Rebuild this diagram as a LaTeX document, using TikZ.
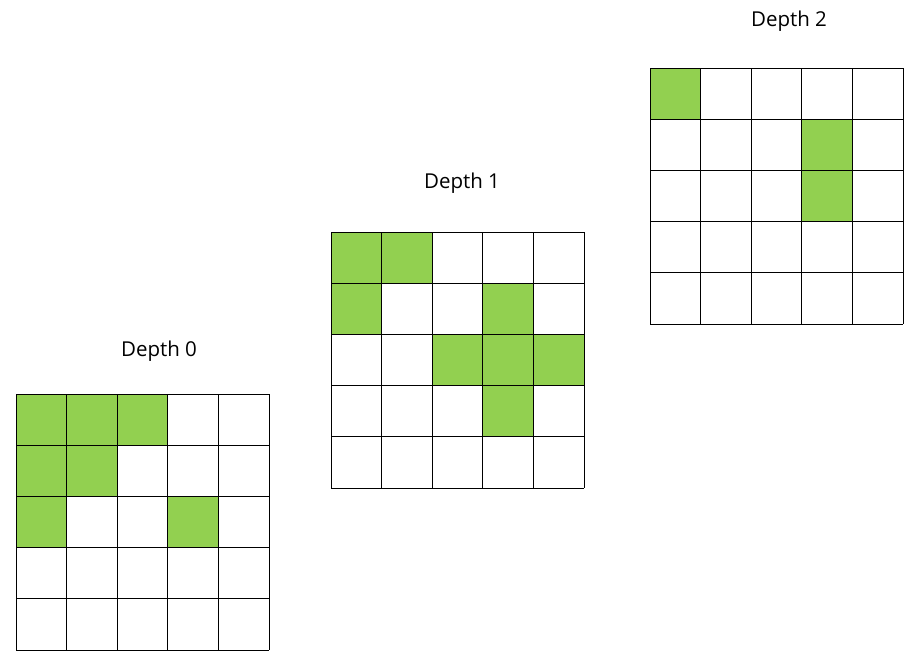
\documentclass[tikz,border=0pt]{standalone}
\usepackage{fontspec}
\setmainfont{Open Sans}
\usepackage{tikz}
\definecolor{verdecelda}{HTML}{92D050}
\tikzset{
  celda/.style={fill=verdecelda,draw=none},
  rejilla/.style={line width=0.9pt,black},
  titulo/.style={anchor=base,font=\fontsize{20.5}{24}\selectfont}
}
% dibuja una rejilla de 5x5 con esquina superior izquierda en #1 y celdas verdes #2 (col/fila)
\newcommand{\rejillaprof}[2]{%
  \begin{scope}[shift={#1}]
    \foreach \c/\f in {#2}
      \fill[celda] (\c*50.6,\f*51.2) rectangle ++(50.6,51.2);
    \foreach \i in {0,...,5}{
      \draw[rejilla] (\i*50.6,0) -- (\i*50.6,256);
      \draw[rejilla] (0,\i*51.2) -- (253,\i*51.2);
    }
  \end{scope}}
\begin{document}
\begin{tikzpicture}[x=1pt,y=-1pt]
   \useasboundingbox (0,0) rectangle (924,667);
   %titulos
   \node[titulo] (prof0) at (159,356.5) {Depth 0};
   \node[titulo] (prof1) at (462,188) {Depth 1};
   \node[titulo] (prof2) at (789,26.5) {Depth 2};
   %rejillas
   \rejillaprof{(16,394)}{0/0,1/0,2/0,0/1,1/1,0/2,3/2}
   \rejillaprof{(331,232)}{0/0,1/0,0/1,3/1,2/2,3/2,4/2,3/3}
   \rejillaprof{(650,68)}{0/0,3/1,3/2}
\end{tikzpicture}
\end{document}
